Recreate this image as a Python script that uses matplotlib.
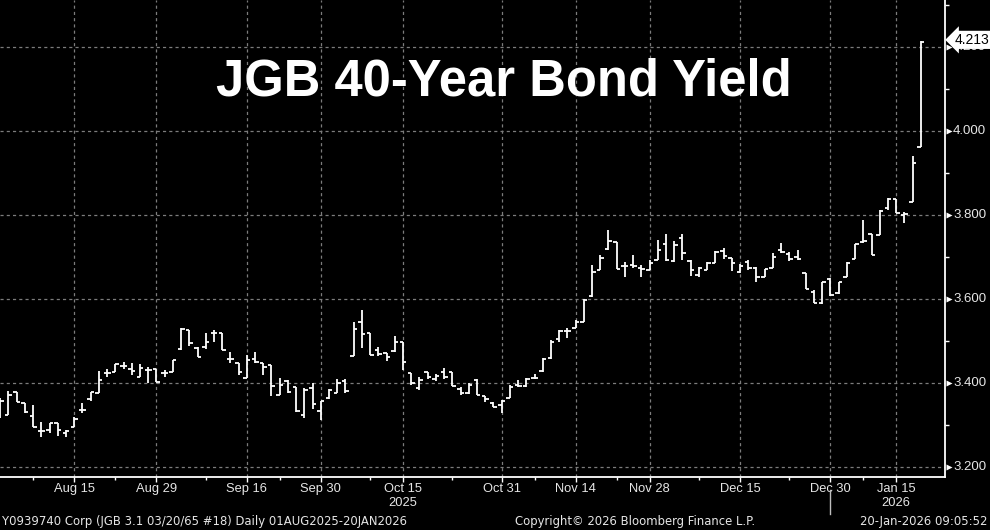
import numpy as np
import pandas as pd
import matplotlib
matplotlib.use("Agg")
import matplotlib.pyplot as plt

# Japanese trading days, Aug 1 2025 - Jan 20 2026
holidays = ["2025-08-11", "2025-09-15", "2025-09-23", "2025-10-13", "2025-11-03",
            "2025-11-24", "2025-12-31", "2026-01-01", "2026-01-02", "2026-01-12"]
dates = pd.bdate_range("2025-08-01", "2026-01-20")
dates = dates[~dates.isin(pd.to_datetime(holidays))]

opens = [3.321, 3.324, 3.379, 3.352, 3.321, 3.286, 3.288, 3.305, 3.281, 3.295,
         3.336, 3.362, 3.376, 3.424, 3.426, 3.440, 3.433, 3.414, 3.431, 3.433,
         3.424, 3.426, 3.481, 3.526, 3.483, 3.486, 3.519, 3.519, 3.457, 3.448,
         3.412, 3.457, 3.448, 3.443, 3.371, 3.405, 3.390, 3.324, 3.388, 3.333,
         3.364, 3.376, 3.405, 3.464, 3.545, 3.519, 3.479, 3.471, 3.476, 3.498,
         3.424, 3.388, 3.426, 3.410, 3.426, 3.426, 3.386, 3.376, 3.407, 3.369,
         3.352, 3.348, 3.364, 3.395, 3.393, 3.412, 3.429, 3.460, 3.505, 3.524,
         3.531, 3.545, 3.607, 3.669, 3.719, 3.736, 3.679, 3.681, 3.674, 3.669,
         3.693, 3.731, 3.690, 3.745, 3.690, 3.657, 3.669, 3.686, 3.714, 3.698,
         3.664, 3.688, 3.674, 3.652, 3.674, 3.717, 3.707, 3.700, 3.662, 3.617,
         3.590, 3.648, 3.614, 3.652, 3.695, 3.736, 3.755, 3.752, 3.817, 3.838,
         3.800, 3.831, 3.962]
highs = [3.364, 3.381, 3.379, 3.352, 3.348, 3.307, 3.305, 3.305, 3.288, 3.319,
         3.352, 3.379, 3.429, 3.433, 3.445, 3.450, 3.448, 3.445, 3.438, 3.433,
         3.431, 3.455, 3.531, 3.526, 3.486, 3.519, 3.526, 3.519, 3.474, 3.448,
         3.467, 3.474, 3.448, 3.443, 3.412, 3.407, 3.390, 3.388, 3.400, 3.357,
         3.386, 3.410, 3.410, 3.545, 3.574, 3.519, 3.486, 3.471, 3.512, 3.498,
         3.424, 3.414, 3.426, 3.421, 3.436, 3.426, 3.390, 3.400, 3.410, 3.369,
         3.355, 3.360, 3.395, 3.407, 3.412, 3.421, 3.460, 3.502, 3.526, 3.531,
         3.550, 3.600, 3.681, 3.705, 3.764, 3.736, 3.688, 3.705, 3.681, 3.693,
         3.740, 3.755, 3.738, 3.755, 3.693, 3.676, 3.688, 3.714, 3.721, 3.698,
         3.683, 3.693, 3.676, 3.671, 3.710, 3.733, 3.712, 3.717, 3.662, 3.621,
         3.640, 3.650, 3.640, 3.688, 3.731, 3.788, 3.755, 3.812, 3.840, 3.838,
         3.807, 3.940, 4.215]
lows = [3.317, 3.324, 3.355, 3.329, 3.295, 3.271, 3.281, 3.274, 3.271, 3.295,
        3.329, 3.357, 3.376, 3.414, 3.426, 3.433, 3.419, 3.414, 3.400, 3.402,
        3.414, 3.426, 3.479, 3.488, 3.462, 3.481, 3.498, 3.479, 3.448, 3.419,
        3.412, 3.448, 3.419, 3.369, 3.371, 3.376, 3.331, 3.317, 3.338, 3.312,
        3.362, 3.376, 3.376, 3.464, 3.483, 3.467, 3.464, 3.452, 3.474, 3.431,
        3.395, 3.383, 3.410, 3.405, 3.410, 3.393, 3.371, 3.374, 3.371, 3.355,
        3.343, 3.329, 3.364, 3.390, 3.390, 3.410, 3.426, 3.457, 3.498, 3.507,
        3.531, 3.545, 3.605, 3.669, 3.717, 3.671, 3.652, 3.674, 3.652, 3.669,
        3.693, 3.690, 3.688, 3.693, 3.655, 3.652, 3.669, 3.686, 3.695, 3.667,
        3.662, 3.669, 3.640, 3.652, 3.674, 3.710, 3.690, 3.693, 3.624, 3.590,
        3.588, 3.607, 3.612, 3.652, 3.695, 3.733, 3.705, 3.752, 3.812, 3.805,
        3.781, 3.831, 3.962]
closes = [3.357, 3.371, 3.355, 3.331, 3.295, 3.286, 3.305, 3.288, 3.286, 3.314,
          3.336, 3.379, 3.407, 3.424, 3.445, 3.440, 3.429, 3.436, 3.431, 3.402,
          3.424, 3.455, 3.529, 3.495, 3.462, 3.498, 3.519, 3.479, 3.457, 3.426,
          3.455, 3.450, 3.438, 3.393, 3.395, 3.379, 3.333, 3.383, 3.350, 3.357,
          3.383, 3.400, 3.381, 3.529, 3.517, 3.467, 3.469, 3.462, 3.498, 3.450,
          3.400, 3.407, 3.414, 3.417, 3.414, 3.393, 3.376, 3.395, 3.371, 3.362,
          3.343, 3.357, 3.390, 3.393, 3.410, 3.412, 3.457, 3.498, 3.524, 3.524,
          3.545, 3.598, 3.664, 3.698, 3.738, 3.671, 3.679, 3.679, 3.671, 3.686,
          3.717, 3.693, 3.729, 3.710, 3.669, 3.674, 3.686, 3.712, 3.702, 3.686,
          3.679, 3.674, 3.652, 3.671, 3.700, 3.712, 3.695, 3.695, 3.624, 3.590,
          3.640, 3.610, 3.640, 3.686, 3.731, 3.738, 3.705, 3.810, 3.838, 3.805,
          3.802, 3.924, 4.213]

major_dates = ["2025-08-15", "2025-08-29", "2025-09-16", "2025-09-30", "2025-10-15",
               "2025-10-31", "2025-11-14", "2025-11-28", "2025-12-15", "2025-12-30",
               "2026-01-15"]
major_labels = ["Aug 15", "Aug 29", "Sep 16", "Sep 30", "Oct 15", "Oct 31",
                "Nov 14", "Nov 28", "Dec 15", "Dec 30", "Jan 15"]
minor_dates = ["2025-08-07", "2025-08-22", "2025-09-08", "2025-09-22", "2025-10-08",
               "2025-10-23", "2025-11-07", "2025-11-21", "2025-12-08", "2025-12-23",
               "2026-01-08"]
y_major = [3.2, 3.4, 3.6, 3.8, 4.0, 4.2]
y_minor = [3.3, 3.5, 3.7, 3.9, 4.1, 4.3]

fg = "#e6e6e6"
plt.rcParams["font.family"] = ["Liberation Sans", "DejaVu Sans"]

fig = plt.figure(figsize=(9.9, 5.3), dpi=100, facecolor="black")
ax = fig.add_axes([0, 0.1, 945 / 990, 0.9], facecolor="black")

x = np.arange(len(closes))
ax.vlines(x, lows, highs, color="white", lw=1.3)
ax.hlines(opens, x - 0.42, x, color="white", lw=1.3)
ax.hlines(closes, x, x + 0.42, color="white", lw=1.3)

ax.set_xlim(-0.03, 114.94)
ax.set_ylim(3.1762, 4.3119)

def pos(d):
    return int(np.where(dates == pd.Timestamp(d))[0][0])

ax.set_xticks([pos(d) for d in major_dates])
ax.set_xticklabels(major_labels)
ax.set_xticks([pos(d) for d in minor_dates], minor=True)
ax.tick_params(axis="x", which="major", colors="white", length=3.5, width=1,
               labelcolor=fg, labelsize=9.3, pad=1.0)
ax.tick_params(axis="x", which="minor", colors="white", length=2.5, width=1)

ax.yaxis.tick_right()
ax.set_yticks(y_major)
ax.set_yticklabels([])
ax.set_yticks(y_minor, minor=True)
ax.tick_params(axis="y", which="major", length=0)
ax.tick_params(axis="y", which="minor", colors="white", length=3, width=1)

ax.grid(True, which="major", color="#7c7c7c", lw=0.9, linestyle=(0, (2.5, 2.5)))

for s in ["top", "left"]:
    ax.spines[s].set_visible(False)
for s in ["bottom", "right"]:
    ax.spines[s].set_color("white")
    ax.spines[s].set_linewidth(1.3)

ytr = ax.get_yaxis_transform()
for v in y_major:
    ax.plot([1.0045], [v], marker=">", ms=5, color="white", mec="none",
            transform=ytr, clip_on=False)
    ax.text(1.0085, v, f"{v:.3f}", transform=ytr, color=fg, fontsize=9.5,
            va="center", ha="left", clip_on=False)

# last value tag (sits over the 4.200 label)
ax.text(1.0105, closes[-1] + 0.004, f"{closes[-1]:.3f}", transform=ytr, color="black",
        fontsize=10, va="center", ha="left", zorder=10, clip_on=False,
        bbox=dict(boxstyle="larrow,pad=0.15", fc="white", ec="none"))

xtr = ax.get_xaxis_transform()
ax.text(pos("2025-10-15"), -0.054, "2025", transform=xtr, color=fg, fontsize=9.3,
        ha="center", va="center")
ax.text(pos("2026-01-15"), -0.054, "2026", transform=xtr, color=fg, fontsize=9.3,
        ha="center", va="center")
ax.plot([pos("2025-12-30")] * 2, [-0.028, -0.078], transform=xtr, color="#bdbdbd",
        lw=1, clip_on=False)

fig.text(504 / 990, 1 - 96 / 530, "JGB 40-Year Bond Yield", color="white",
         fontsize=36.5, fontweight="bold", ha="center", va="baseline")

bottom_font = dict(color=fg, fontsize=8.4, va="center", family="DejaVu Sans")
fig.text(2 / 990, 9 / 530, "Y0939740 Corp (JGB 3.1 03/20/65 #18) Daily 01AUG2025-20JAN2026",
         ha="left", **bottom_font)
fig.text(515 / 990, 9 / 530, "Copyright\u00a9 2026 Bloomberg Finance L.P.",
         ha="left", **bottom_font)
fig.text(987 / 990, 9 / 530, "20-Jan-2026 09:05:52", ha="right", **bottom_font)

fig.savefig("out.png", dpi=100, facecolor="black")
